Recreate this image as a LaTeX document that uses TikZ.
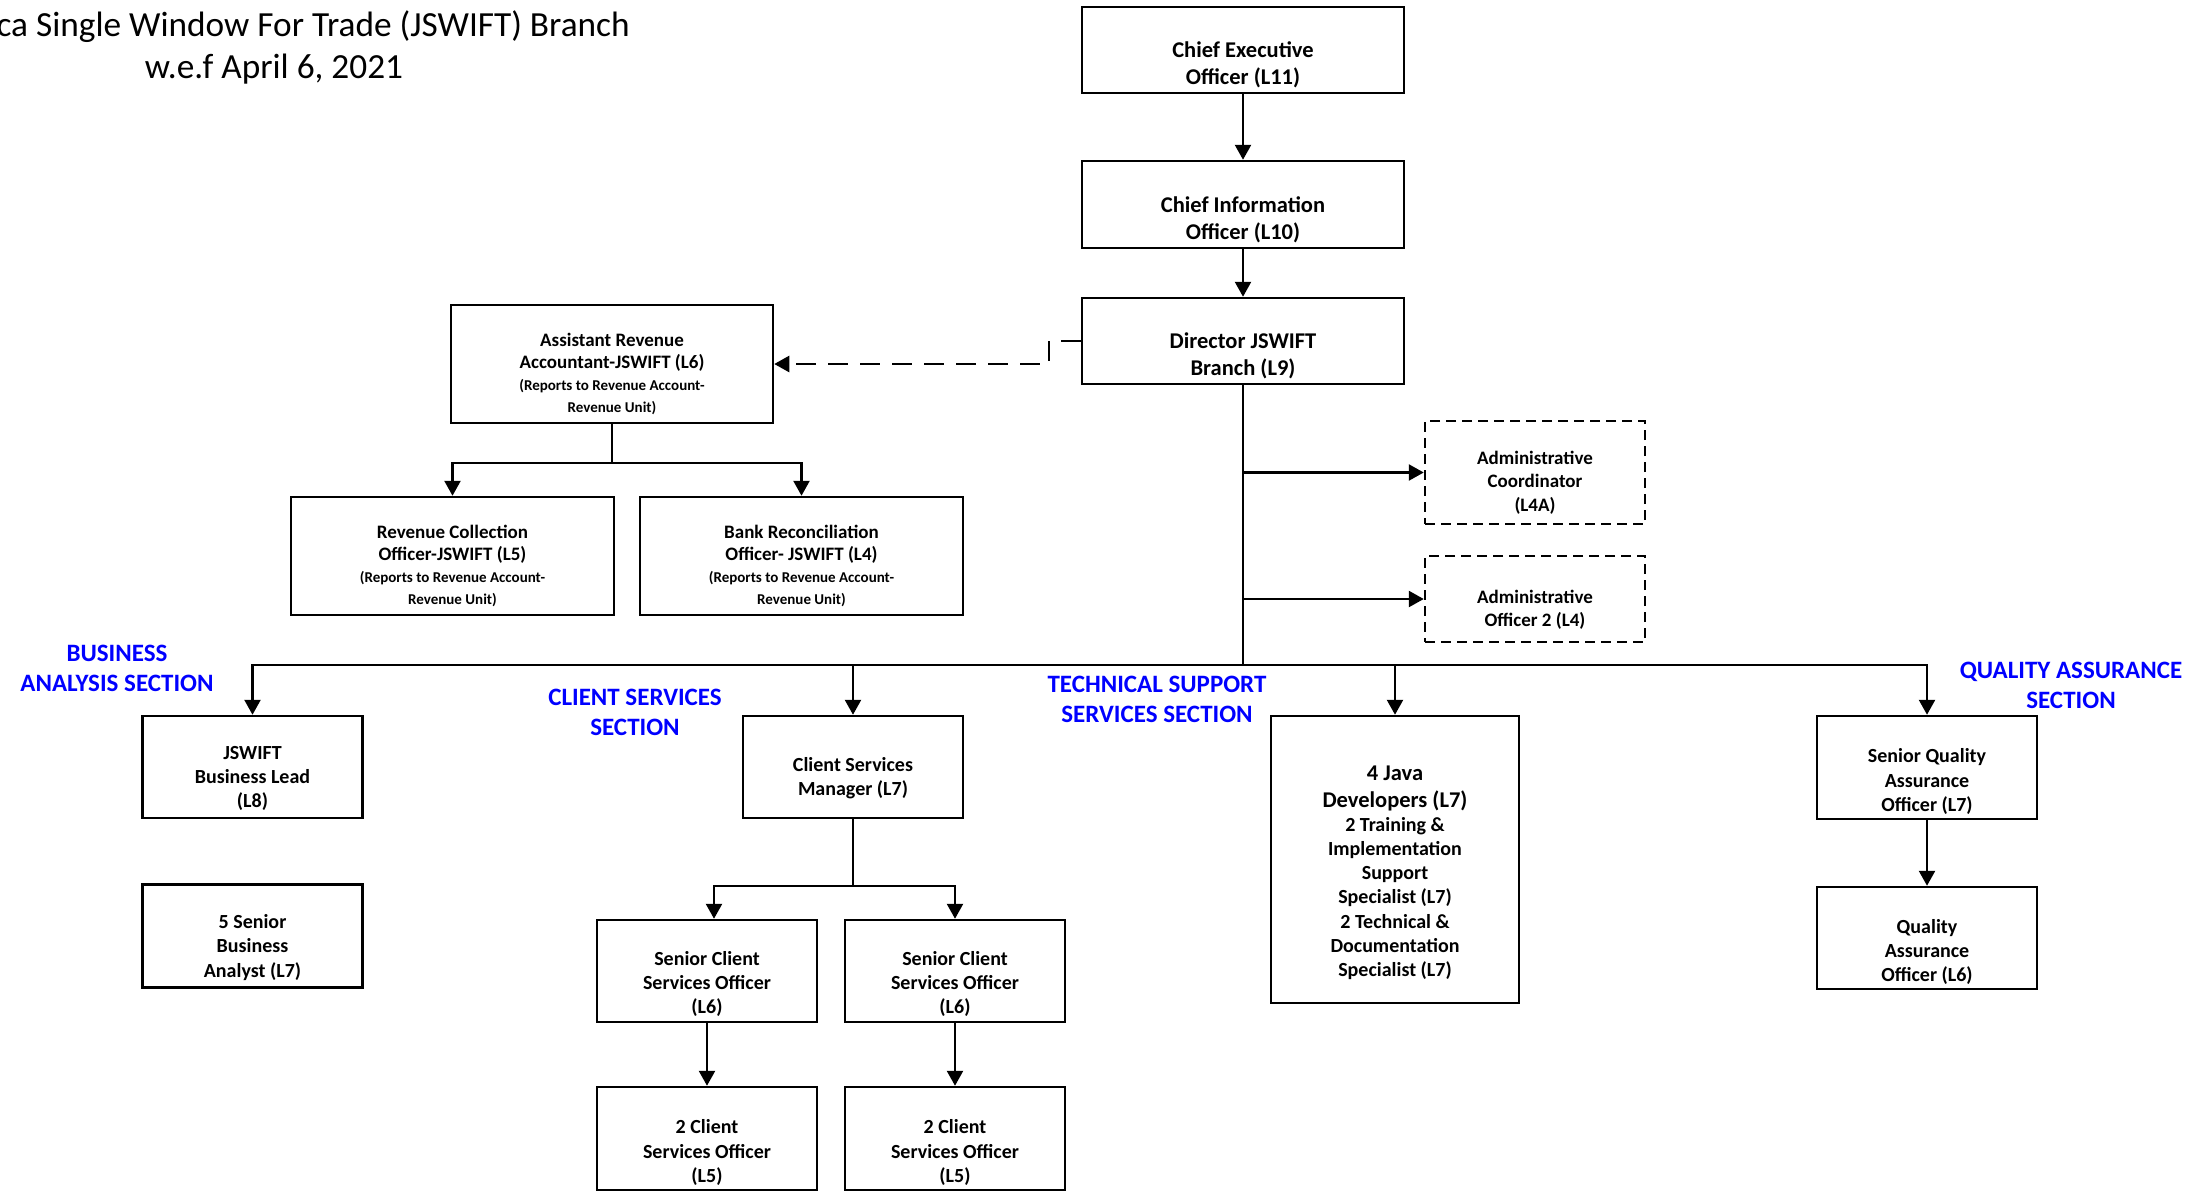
\documentclass[tikz,border=0pt]{standalone}
\usepackage{fontspec}
\setmainfont{Carlito}
\usetikzlibrary{arrows.meta}
\definecolor{secblue}{RGB}{0,0,255}
\newcommand\fszA{\fontsize{22.5}{26.7}\selectfont}
\newcommand\fszM{\fontsize{19}{22}\selectfont}
\begin{document}
\begin{tikzpicture}[x=1pt,y=-1pt,
 box/.style={draw, line width=2.5pt, inner sep=0pt},
 dbox/.style={box, dash pattern=on 10pt off 6pt},
 lbl/.style={align=center, inner sep=0pt, font=\bfseries\fontsize{20}{24.2}\selectfont},
 big/.style={lbl, font=\bfseries\fontsize{22.5}{26.7}\selectfont},
 adm/.style={lbl, font=\bfseries\fontsize{19}{23.3}\selectfont},
 rev/.style={lbl, font=\bfseries\fontsize{15}{22}\selectfont},
 sec/.style={align=center, inner sep=0pt, text=secblue, font=\bfseries\fontsize{25}{30}\selectfont},
 ttl/.style={inner sep=0pt, font=\fontsize{35.3}{42}\selectfont},
 conn/.style={line width=2.5pt},
 arr/.style={conn, -{Triangle[length=15pt,width=16pt]}},
 darr/.style={arr, dash pattern=on 20pt off 12pt},
]
\useasboundingbox (0,0) rectangle (2212,1191);

% title
\node[ttl, anchor=east] (t1) at (630,27) {ca Single Window For Trade (JSWIFT) Branch};
\node[ttl] (t2) at (274,69) {w.e.f April 6, 2021};

% top chain
\node[box, minimum width=322, minimum height=86] (ceo) at (1243,50) {};
\node[big] (ceot) at ([yshift=-15pt]ceo.center) {Chief Executive\\Officer (L11)};
\node[box, minimum width=322, minimum height=87] (cio) at (1243,204.5) {};
\node[big] (ciot) at ([yshift=-15pt]cio.center) {Chief Information\\Officer (L10)};
\node[box, minimum width=322, minimum height=86] (dir) at (1243,341) {};
\node[big] (dirt) at ([yshift=-15pt]dir.center) {Director JSWIFT\\Branch (L9)};

% revenue group
\node[box, minimum width=322, minimum height=118] (ara) at (612,364) {};
\node[rev] (arat) at ([yshift=-10pt]ara.center) {{\fszM Assistant Revenue}\\{\fszM Accountant-JSWIFT (L6)}\\(Reports to Revenue Account-\\Revenue Unit)};
\node[box, minimum width=323, minimum height=118] (rc) at (452.5,556) {};
\node[rev] (rct) at ([yshift=-10pt]rc.center) {{\fszM Revenue Collection}\\{\fszM Officer-JSWIFT (L5)}\\(Reports to Revenue Account-\\Revenue Unit)};
\node[box, minimum width=323, minimum height=118] (bank) at (801.5,556) {};
\node[rev] (bankt) at ([yshift=-10pt]bank.center) {{\fszM Bank Reconciliation}\\{\fszM Officer- JSWIFT (L4)}\\(Reports to Revenue Account-\\Revenue Unit)};

% admin
\node[dbox, minimum width=220, minimum height=103] (adc) at (1535,472.5) {};
\node[adm] (adct) at ([yshift=-10pt]adc.center) {Administrative\\Coordinator\\(L4A)};
\node[dbox, minimum width=220, minimum height=86] (ado) at (1535,599) {};
\node[adm] (adot) at ([yshift=-11pt]ado.center) {Administrative\\Officer 2 (L4)};

% business analysis
\node[box, minimum width=220, minimum height=102] (jsl) at (252.5,767) {};
\node[lbl] (jslt) at ([yshift=-11.5pt]jsl.center) {JSWIFT\\Business Lead\\(L8)};
\node[box, minimum width=220, minimum height=103] (sba) at (252.5,936) {};
\node[lbl] (sbat) at ([yshift=-11.5pt]sba.center) {5 Senior\\Business\\Analyst (L7)};

% client services
\node[box, minimum width=220, minimum height=102] (csm) at (853,767) {};
\node[lbl] (csmt) at ([yshift=-11.5pt]csm.center) {Client Services\\Manager (L7)};
\node[box, minimum width=220, minimum height=102] (scl) at (707,971) {};
\node[lbl] (sclt) at ([yshift=-13pt]scl.center) {Senior Client\\Services Officer\\(L6)};
\node[box, minimum width=220, minimum height=102] (scr) at (955,971) {};
\node[lbl] (scrt) at ([yshift=-13pt]scr.center) {Senior Client\\Services Officer\\(L6)};
\node[box, minimum width=220, minimum height=103] (ccl) at (707,1138.5) {};
\node[lbl] (cclt) at ([yshift=-14pt]ccl.center) {2 Client\\Services Officer\\(L5)};
\node[box, minimum width=220, minimum height=103] (ccr) at (955,1138.5) {};
\node[lbl] (ccrt) at ([yshift=-14pt]ccr.center) {2 Client\\Services Officer\\(L5)};

% technical support
\node[box, minimum width=248, minimum height=287] (java) at (1395,859.5) {};
\node[lbl] (javat) at ([yshift=-13.5pt]java.center) {{\fszA 4 Java}\\[2pt]{\fszA Developers (L7)}\\2 Training \&\\Implementation\\Support\\Specialist (L7)\\2 Technical \&\\Documentation\\Specialist (L7)};

% quality assurance
\node[box, minimum width=220, minimum height=103] (sqa) at (1927,767.5) {};
\node[lbl] (sqat) at ([yshift=-14pt]sqa.center) {Senior Quality\\Assurance\\Officer (L7)};
\node[box, minimum width=220, minimum height=102] (qa) at (1927,938) {};
\node[lbl] (qat) at ([yshift=-14pt]qa.center) {Quality\\Assurance\\Officer (L6)};

% section labels
\node[sec] (secba) at (117,668) {BUSINESS\\ANALYSIS SECTION};
\node[sec] (seccs) at (635,712.5) {CLIENT SERVICES\\SECTION};
\node[sec] (sects) at (1157,699.5) {TECHNICAL SUPPORT\\SERVICES SECTION};
\node[sec] (secqa) at (2071,685) {QUALITY ASSURANCE\\SECTION};

% connectors
\draw[arr] (ceo) -- (cio);
\draw[arr] (cio) -- (dir);
\coordinate (bus) at (1243,665);
\draw[conn] (dir.south) -- (bus);
\draw[arr] (bus) -| (jsl.north);
\draw[arr] (bus) -| (csm.north);
\draw[arr] (bus) -| (java.north);
\draw[arr] (bus) -| (sqa.north);
\draw[arr] (dir.south |- adc.west) -- (adc.west);
\draw[arr] (dir.south |- ado.west) -- (ado.west);
\draw[darr] (dir.west) -- ++(-32,0) |- (ara.east);
\coordinate (arasp) at (612,463);
\draw[conn] (ara.south) -- (arasp);
\draw[arr] (arasp) -| (rc.north);
\draw[arr] (arasp) -| (bank.north);
\coordinate (cssp) at (853,886);
\draw[conn] (csm.south) -- (cssp);
\draw[arr] (cssp) -| ([xshift=7pt]scl.north);
\draw[arr] (cssp) -| (scr.north);
\draw[arr] (scl) -- (ccl);
\draw[arr] (scr) -- (ccr);
\draw[arr] (sqa) -- (qa);
\end{tikzpicture}
\end{document}
